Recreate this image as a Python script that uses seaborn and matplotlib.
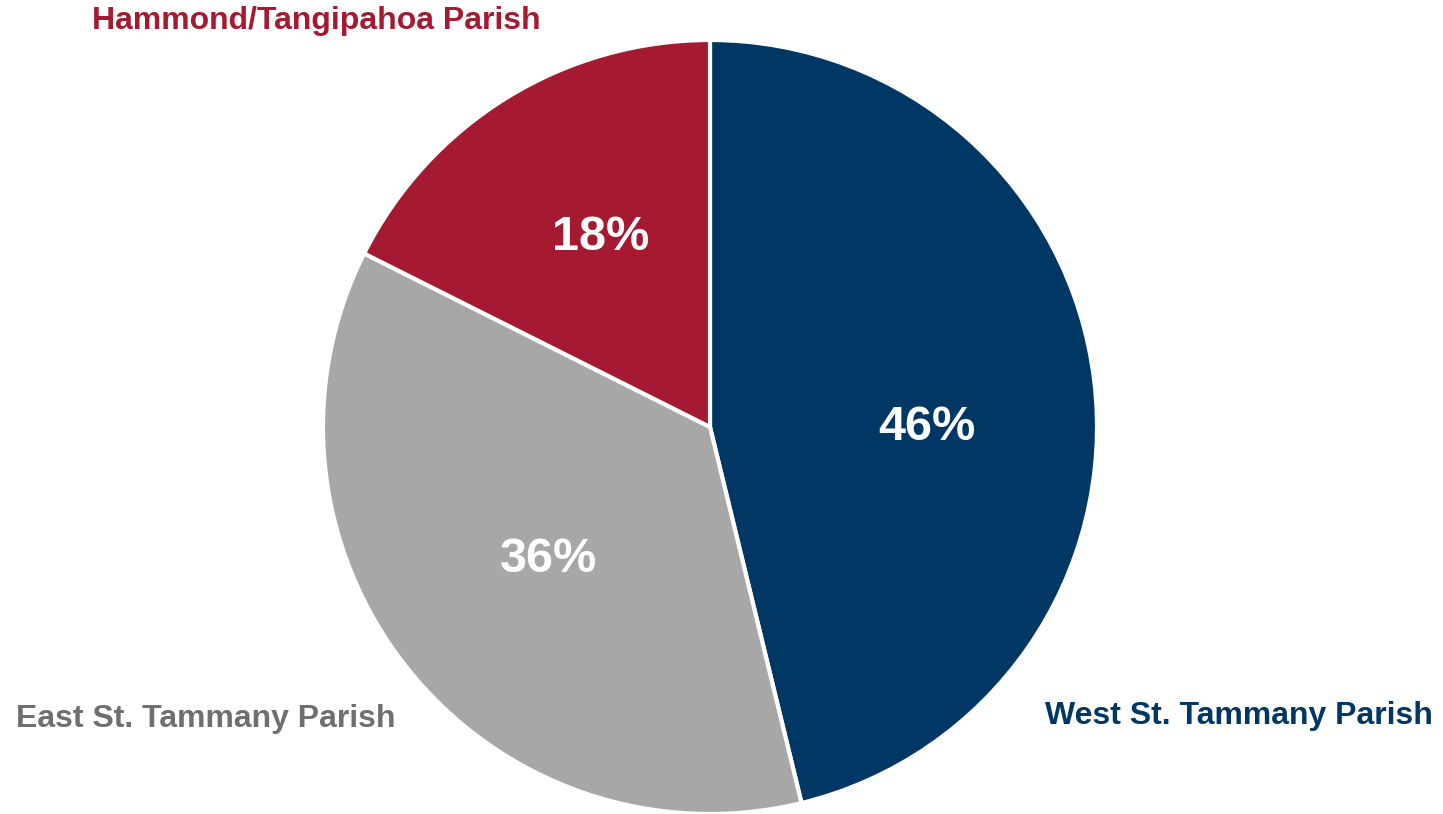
import matplotlib
matplotlib.use("Agg")
import matplotlib.pyplot as plt
import seaborn as sns

# slice data, clockwise from 12 o'clock (shares)
regions = ["West St. Tammany Parish", "East St. Tammany Parish", "Hammond/Tangipahoa Parish"]
shares = [46.2, 36.2, 17.6]
slice_colors = ["#003764", "#A6A7A6", "#A51A31"]
label_colors = ["#003764", "#6F6F6F", "#A51A31"]

sns.set_style("white")
plt.rcParams['font.family'] = ['Liberation Sans', 'DejaVu Sans']

W, H = 1443, 814
fig = plt.figure(figsize=(W / 100, H / 100), dpi=100)
cx, cy, r = 710, 427, 387
ax = fig.add_axes([(cx - r) / W, (H - cy - r) / H, 2 * r / W, 2 * r / H])

wedges, texts = ax.pie(shares, colors=slice_colors, startangle=90, counterclock=False,
                       radius=1, wedgeprops={"edgecolor": "white", "linewidth": 3})
ax.set_xlim(-1, 1)
ax.set_ylim(-1, 1)
ax.set_aspect("equal")
ax.axis("off")

# percentage labels inside slices (pixel positions of label centres)
pct_pos = [(927, 427), (549, 560), (601, 237)]
for (px, py), v in zip(pct_pos, shares):
    fig.text(px / W, 1 - py / H, f"{v:.0f}%", ha="center", va="center",
             fontsize=35, fontweight="bold", color="white")

# category labels outside the pie
name_pos = [(1239, 716), (206, 719), (316, 21)]
for (px, py), name, c in zip(name_pos, regions, label_colors):
    fig.text(px / W, 1 - py / H, name, ha="center", va="center",
             fontsize=23, fontweight="bold", color=c)

fig.savefig("out.png", dpi=100, facecolor="white")
